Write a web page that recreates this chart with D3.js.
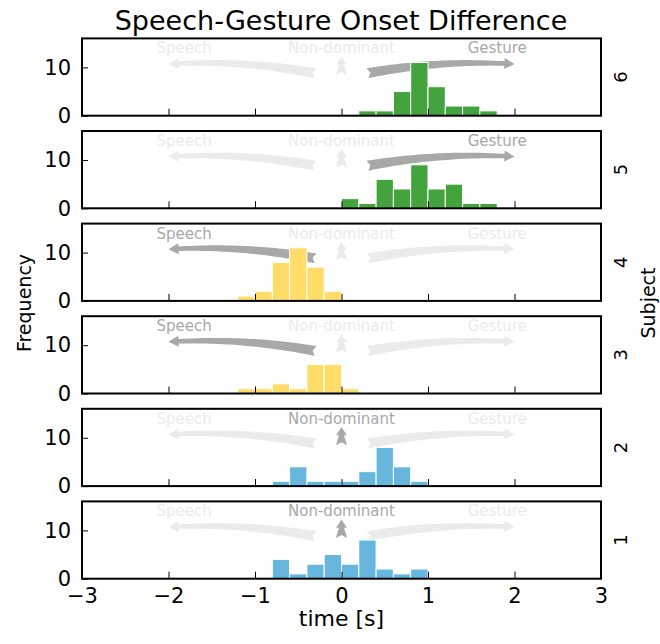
<!DOCTYPE html>
<html>
<head>
<meta charset="utf-8">
<script src="https://cdn.jsdelivr.net/npm/d3@7"></script>
<style>
  html, body { margin: 0; padding: 0; background: #fff; }
  svg { display: block; font-family: "DejaVu Sans", sans-serif; }
</style>
</head>
<body>
<svg id="chart" width="660" height="644"></svg>
<script>
// ---------------- data ----------------
const subjects = ["6", "5", "4", "3", "2", "1"];
const xTicks = [-3, -2, -1, 0, 1, 2, 3];
const yTicks = [0, 10];
const binWidth = 0.2;

const binsS6 = [0.2, 0.4, 0.6, 0.8, 1.0, 1.2, 1.4, 1.6];
const countsS6 = [1, 1, 5, 11, 6, 2, 2, 1];
const binsS5 = [0.0, 0.2, 0.4, 0.6, 0.8, 1.0, 1.2, 1.4, 1.6];
const countsS5 = [2, 1, 6, 4, 9, 4, 5, 1, 1];
const binsS4 = [-1.2, -1.0, -0.8, -0.6, -0.4, -0.2];
const countsS4 = [1, 2, 8, 11, 7, 2];
const binsS3 = [-1.2, -1.0, -0.8, -0.6, -0.4, -0.2, 0.0];
const countsS3 = [1, 1, 2, 1, 6, 6, 1];
const binsS2 = [-0.8, -0.6, -0.4, -0.2, 0.0, 0.2, 0.4, 0.6, 0.8];
const countsS2 = [1, 4, 1, 1, 1, 3, 8, 4, 1];
const binsS1 = [-0.8, -0.6, -0.4, -0.2, 0.0, 0.2, 0.4, 0.6, 0.8];
const countsS1 = [4, 1, 3, 5, 3, 8, 2, 1, 2];

const panelBins = [binsS6, binsS5, binsS4, binsS3, binsS2, binsS1];
const panelCounts = [countsS6, countsS5, countsS4, countsS3, countsS2, countsS1];
const panelColors = ["#43a33d", "#43a33d", "#ffdd68", "#ffdd68", "#66b6de", "#66b6de"];
const activeCue = ["Gesture", "Gesture", "Speech", "Speech", "Non-dominant", "Non-dominant"];

const cueNames = ["Speech", "Non-dominant", "Gesture"];
const cueLabelX = [-1.82, 0, 1.8];
const cueLabelY = [12.9, 12.9, 12.9];
const cueTail = [[-0.3, 8.8], [0, 8.45], [0.3, 8.8]];
const cueHead = [[-2.0, 10.7], [0, 12.2], [2.0, 10.7]];
const cueBend = [0.06, 0, -0.06];

// ---------------- layout ----------------
const svg = d3.select("#chart");
const left = 82, right = 601;
const top0 = 38.4, panelH = 77.3, panelStep = 92.6;
const activeGray = "#a8a8a8", inactiveGray = "#ebebeb";

const x = d3.scaleLinear().domain([-3, 3]).range([left, right]);

function arrowPath(p0, p2, bend, tailW, neckW, headW, headL, notch) {
  const dx = p2[0] - p0[0], dy = p2[1] - p0[1];
  const L = Math.hypot(dx, dy);
  const nx = -dy / L, ny = dx / L;
  const c = [(p0[0] + p2[0]) / 2 + nx * bend * L, (p0[1] + p2[1]) / 2 + ny * bend * L];
  const pt = t => [
    (1 - t) * (1 - t) * p0[0] + 2 * (1 - t) * t * c[0] + t * t * p2[0],
    (1 - t) * (1 - t) * p0[1] + 2 * (1 - t) * t * c[1] + t * t * p2[1]
  ];
  const der = t => {
    const a = [2 * (1 - t) * (c[0] - p0[0]) + 2 * t * (p2[0] - c[0]),
               2 * (1 - t) * (c[1] - p0[1]) + 2 * t * (p2[1] - c[1])];
    const l = Math.hypot(a[0], a[1]);
    return [a[0] / l, a[1] / l];
  };
  const th = 1 - headL / L;
  const N = 40;
  const leftSide = [], rightSide = [];
  for (let i = 0; i <= N; i++) {
    const t = th * i / N;
    const p = pt(t), d = der(t);
    const w = tailW + (neckW - tailW) * (i / N);
    const n = [-d[1], d[0]];
    leftSide.push([p[0] + n[0] * w / 2, p[1] + n[1] * w / 2]);
    rightSide.push([p[0] - n[0] * w / 2, p[1] - n[1] * w / 2]);
  }
  const pb = pt(th), db = der(th), nb = [-db[1], db[0]];
  const pts = [];
  leftSide.forEach(p => pts.push(p));
  pts.push([pb[0] + nb[0] * headW / 2, pb[1] + nb[1] * headW / 2]);
  pts.push(p2);
  pts.push([pb[0] - nb[0] * headW / 2, pb[1] - nb[1] * headW / 2]);
  rightSide.slice().reverse().forEach(p => pts.push(p));
  const d0 = der(0);
  pts.push([p0[0] + d0[0] * notch, p0[1] + d0[1] * notch]);
  return "M" + pts.map(p => p[0].toFixed(2) + "," + p[1].toFixed(2)).join("L") + "Z";
}

subjects.forEach((subj, i) => {
  const top = top0 + i * panelStep;
  const y = d3.scaleLinear().domain([0, 16]).range([top + panelH, top]);
  const g = svg.append("g");

  // cue arrows and labels
  cueNames.forEach((name, k) => {
    const col = activeCue[i] === name ? activeGray : inactiveGray;
    const p0 = [x(cueTail[k][0]), y(cueTail[k][1])];
    const p2 = [x(cueHead[k][0]), y(cueHead[k][1])];
    const isShort = name === "Non-dominant";
    g.append("path")
      .attr("d", isShort ? arrowPath(p0, p2, cueBend[k], 11, 5, 11, 8, 3)
                         : arrowPath(p0, p2, cueBend[k], 10, 4.5, 11, 10, 3))
      .attr("fill", col);
    g.append("text")
      .attr("x", x(cueLabelX[k]))
      .attr("y", y(cueLabelY[k]))
      .attr("text-anchor", "middle")
      .attr("font-size", "15px")
      .attr("fill", col)
      .text(name);
  });

  // bars
  g.selectAll("rect.bar")
    .data(panelBins[i].map((b, j) => ({ x0: b, x1: b + binWidth, c: panelCounts[i][j] })))
    .join("rect")
    .attr("class", "bar")
    .attr("x", d => x(d.x0))
    .attr("width", d => x(d.x1) - x(d.x0))
    .attr("y", d => y(d.c))
    .attr("height", d => y(0) - y(d.c))
    .attr("fill", panelColors[i])
    .attr("stroke", "#fff")
    .attr("stroke-width", 1);

  // y axis
  const ya = g.append("g")
    .attr("transform", `translate(${left},0)`)
    .call(d3.axisLeft(y).tickValues(yTicks).tickSize(-6).tickPadding(11).tickFormat(d3.format("d")));
  ya.select(".domain").remove();
  ya.selectAll("text").attr("font-size", "21px").attr("fill", "#000").attr("font-family", "DejaVu Sans");
  ya.selectAll("line").attr("stroke", "#000");

  // x axis
  const xa = g.append("g")
    .attr("transform", `translate(0,${top + panelH})`)
    .call(d3.axisBottom(x).tickValues(xTicks).tickSize(-7).tickPadding(9).tickFormat(d3.format("d")));
  xa.select(".domain").remove();
  xa.selectAll("line").attr("stroke", "#000");
  xa.selectAll("text").attr("font-size", "21px").attr("fill", "#000").attr("font-family", "DejaVu Sans");
  if (i !== subjects.length - 1) xa.selectAll("text").remove();

  // frame
  g.append("rect")
    .attr("x", left).attr("y", top)
    .attr("width", right - left).attr("height", panelH)
    .attr("fill", "none").attr("stroke", "#000").attr("stroke-width", 2);

  // subject label on right
  g.append("text")
    .attr("transform", `translate(627,${top + panelH / 2}) rotate(-90)`)
    .attr("text-anchor", "middle")
    .attr("font-size", "18px")
    .attr("fill", "#000")
    .text(subj);
});

// titles & axis labels
svg.append("text")
  .attr("x", 341).attr("y", 30)
  .attr("text-anchor", "middle")
  .attr("font-size", "27px")
  .attr("fill", "#000")
  .text("Speech-Gesture Onset Difference");

svg.append("text")
  .attr("x", x(0)).attr("y", 626)
  .attr("text-anchor", "middle")
  .attr("font-size", "22px")
  .attr("fill", "#000")
  .text("time [s]");

svg.append("text")
  .attr("transform", "translate(31,303) rotate(-90)")
  .attr("text-anchor", "middle")
  .attr("font-size", "19px")
  .attr("fill", "#000")
  .text("Frequency");

svg.append("text")
  .attr("transform", "translate(655,303) rotate(-90)")
  .attr("text-anchor", "middle")
  .attr("font-size", "19px")
  .attr("fill", "#000")
  .text("Subject");
</script>
</body>
</html>
